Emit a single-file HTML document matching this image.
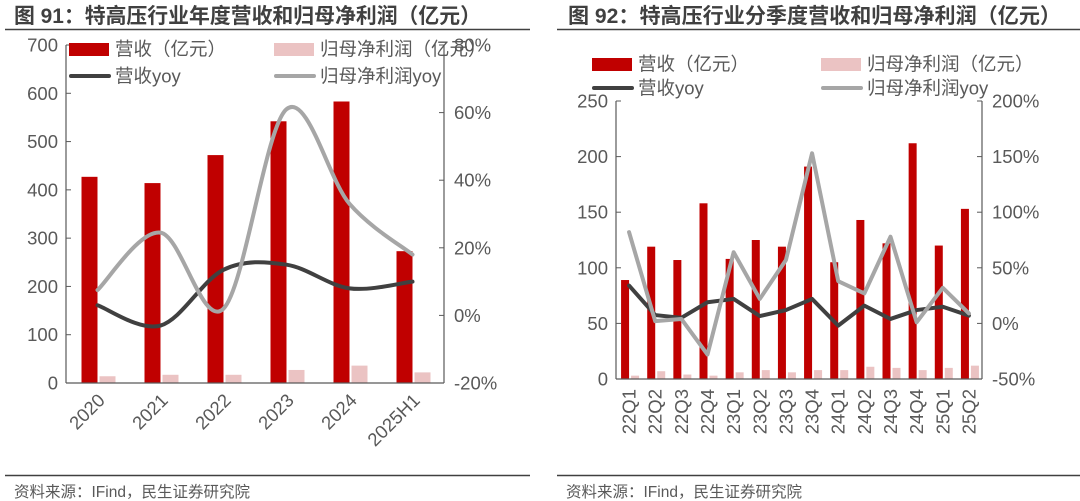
<!DOCTYPE html>
<html><head><meta charset="utf-8"><style>
body{margin:0;background:#fff;width:1080px;height:501px;overflow:hidden}
svg{display:block}
text{font-family:"Liberation Sans","Noto Sans CJK SC",sans-serif}
</style></head><body>
<svg id="s" width="1080" height="501">
<g>
<text x="14" y="23" font-size="21" font-weight="bold" fill="#404040" textLength="467" lengthAdjust="spacingAndGlyphs">图 91：特高压行业年度营收和归母净利润（亿元）</text>
<line x1="5" y1="29.5" x2="530" y2="29.5" stroke="#404040" stroke-width="1.5"/>
<line x1="5" y1="475.5" x2="530" y2="475.5" stroke="#404040" stroke-width="1.5"/>
<text x="14" y="497" font-size="15.5" fill="#595959">资料来源：IFind，民生证券研究院</text>
</g>
<g>
<text x="568" y="23" font-size="21" font-weight="bold" fill="#404040" textLength="493" lengthAdjust="spacingAndGlyphs">图 92：特高压行业分季度营收和归母净利润（亿元）</text>
<line x1="557" y1="29.5" x2="1080" y2="29.5" stroke="#404040" stroke-width="1.5"/>
<line x1="557" y1="475.5" x2="1080" y2="475.5" stroke="#404040" stroke-width="1.5"/>
<text x="566" y="497" font-size="15.5" fill="#595959">资料来源：IFind，民生证券研究院</text>
</g>
</svg>
<script>
const yearCats=["2020","2021","2022","2023","2024","2025H1"];
const yearRev=[427,414,472,542,583,273];
const yearProfit=[14,17,17,27,36,22];
const yearRevYoy=[3,-3,13.5,15,8,10];
const yearProfitYoy=[7.5,24.5,2,61,33,18];
const yearLeftTicks=[0,100,200,300,400,500,600,700];
const yearRightTicks=[-20,0,20,40,60,80];

const qCats=["22Q1","22Q2","22Q3","22Q4","23Q1","23Q2","23Q3","23Q4","24Q1","24Q2","24Q3","24Q4","25Q1","25Q2"];
const qRev=[89,119,107,158,108,125,119,191,105,143,122,212,120,153];
const qProfit=[3,7,4,3,6,8,6,8,8,11,10,8,10,12];
const qRevYoy=[34,7.5,5,19,22,6.6,12,22,-2,16,4,12,15,7];
const qProfitYoy=[82,2,4,-28,64,22,57,153,38,27,78,1,32,9];
const qLeftTicks=[0,50,100,150,200,250];
const qRightTicks=[-50,0,50,100,150,200];

const NS="http://www.w3.org/2000/svg";
const svg=document.getElementById('s');
function mk(tag,attrs,parent){const e=document.createElementNS(NS,tag);for(const k in attrs)e.setAttribute(k,attrs[k]);(parent||svg).appendChild(e);return e;}

function smoothPath(pts){
  let d="M"+pts[0][0]+","+pts[0][1];
  for(let i=0;i<pts.length-1;i++){
    const p0=pts[i-1]||pts[i],p1=pts[i],p2=pts[i+1],p3=pts[i+2]||p2;
    const c1=[p1[0]+(p2[0]-p0[0])/6,p1[1]+(p2[1]-p0[1])/6];
    const c2=[p2[0]-(p3[0]-p1[0])/6,p2[1]-(p3[1]-p1[1])/6];
    d+=" C"+c1+" "+c2+" "+p2;
  }
  return d;
}

function chart(o){
  const g=mk('g',{});
  
  
  const n=o.cats.length,cw=(o.x1-o.x0)/n;
  const yL=v=>o.y0-(v-o.lMin)/(o.lMax-o.lMin)*(o.y0-o.y1);
  const yR=v=>o.y0-(v-o.rMin)/(o.rMax-o.rMin)*(o.y0-o.y1);
  const xc=i=>o.x0+cw*(i+0.5);
  o.rev.forEach((v,i)=>{const r=mk('rect',{x:xc(i)-o.bw,y:yL(v),width:o.bw,height:o.y0-yL(v),fill:'#c00000'},g);
    
    });
  o.profit.forEach((v,i)=>{const r=mk('rect',{x:xc(i)+o.gap,y:yL(v),width:o.bw,height:o.y0-yL(v),fill:'#ebc3c3'},g);
    
    });
  const p1=o.revYoy.map((v,i)=>[xc(i),yR(v)]),p2=o.profitYoy.map((v,i)=>[xc(i),yR(v)]);
  const d1=o.smooth?smoothPath(p1):"M"+p1.join(" L");
  const d2=o.smooth?smoothPath(p2):"M"+p2.join(" L");
  const l1=mk('path',{d:d1,fill:'none',stroke:'#404040','stroke-width':4,'stroke-linejoin':'round','stroke-linecap':'round'},g);
  
  
  const l2=mk('path',{d:d2,fill:'none',stroke:'#a6a6a6','stroke-width':4,'stroke-linejoin':'round','stroke-linecap':'round'},g);
  
  
  mk('line',{x1:o.x0,y1:o.y0,x2:o.x1,y2:o.y0,stroke:'#595959','stroke-width':1.2},g);
  mk('line',{x1:o.x0,y1:o.y0,x2:o.x0,y2:o.y1,stroke:'#595959','stroke-width':1.2},g);
  mk('line',{x1:o.x1,y1:o.y0,x2:o.x1,y2:o.y1,stroke:'#595959','stroke-width':1.2},g);
  o.lTicks.forEach(t=>{mk('line',{x1:o.x0,y1:yL(t),x2:o.x0+5,y2:yL(t),stroke:'#595959'},g);
    const e=mk('text',{x:o.x0-8,y:yL(t)+6.5,'font-size':18.5,fill:'#595959','text-anchor':'end'},g);e.textContent=t;
    
    });
  o.rTicks.forEach(t=>{mk('line',{x1:o.x1,y1:yR(t),x2:o.x1-5,y2:yR(t),stroke:'#595959'},g);
    const e=mk('text',{x:o.x1+10,y:yR(t)+6.5,'font-size':18.5,fill:'#595959'},g);e.textContent=t+'%';
    
    });
  o.cats.forEach((c,i)=>{const x=xc(i),y=o.y0+10;
    const e=mk('text',{x:x,y:y,'font-size':18.5,fill:'#595959','text-anchor':'end',transform:'rotate('+o.rot+' '+x+' '+y+')',dy:o.rot==-90?6.5:12},g);
    e.textContent=c;
    
    });
  const L=o.leg;
  const items=[['rect','#c00000','营收（亿元）',L.x1,L.y1],['rect','#ebc3c3','归母净利润（亿元）',L.x2,L.y1],['line','#404040','营收yoy',L.x1,L.y2],['line','#a6a6a6','归母净利润yoy',L.x2,L.y2]];
  items.forEach(it=>{const lg=mk('g',{},g);
    
    
    if(it[0]=='rect')mk('rect',{x:it[3],y:it[4]-6,width:40,height:13,fill:it[1]},lg);
    else mk('line',{x1:it[3]+2,y1:it[4],x2:it[3]+40,y2:it[4],stroke:it[1],'stroke-width':4,'stroke-linecap':'round'},lg);
    const t=mk('text',{x:it[3]+46,y:it[4]+6.5,'font-size':18.5,fill:'#595959'},lg);t.textContent=it[2];});
}

chart({name:'annual-chart',cats:yearCats,rev:yearRev,profit:yearProfit,revYoy:yearRevYoy,profitYoy:yearProfitYoy,
  x0:66,x1:444,y0:383,y1:45,lMin:0,lMax:700,rMin:-20,rMax:80,lTicks:yearLeftTicks,rTicks:yearRightTicks,
  bw:16,gap:2,smooth:true,rot:-45,leg:{x1:69,x2:274,y1:49,y2:76}});
chart({name:'quarterly-chart',cats:qCats,rev:qRev,profit:qProfit,revYoy:qRevYoy,profitYoy:qProfitYoy,
  x0:616,x1:982,y0:379,y1:101,lMin:0,lMax:250,rMin:-50,rMax:200,lTicks:qLeftTicks,rTicks:qRightTicks,
  bw:8,gap:2,smooth:false,rot:-90,leg:{x1:592,x2:821,y1:64,y2:88}});
</script>
</body></html>
